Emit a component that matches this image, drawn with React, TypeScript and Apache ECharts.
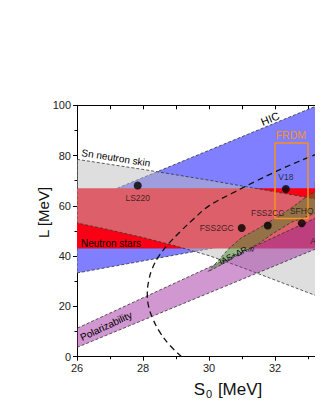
import { useEffect, useRef } from 'react';
import * as echarts from 'echarts';

// ---- axes ----
const xMin = 26;
const xMax = 34;
const yMin = 0;
const yMax = 100;

// ---- constraint regions (S0 [MeV], L [MeV]) ----
const hicBand: number[][] = [[26, 33.3], [34, 52.5], [34, 100], [33.3, 100], [26, 60.4]];
const neutronStarBand: number[][] = [[26, 43], [34, 43], [34, 67], [26, 67]];
const snSkinBand: number[][] = [
  [26, 78.5], [28, 74.5], [30, 70.2], [32, 65.6], [34, 61],
  [34, 20.5], [33, 25.5], [32, 30.5], [31, 35.5], [30, 40.2], [29, 44], [28, 47.4], [27, 50.4], [26, 53.2],
];
const polarizabilityBand: number[][] = [[26, 3.7], [34, 47], [34, 59.8], [26, 11.3]];
const iasBand: number[][] = [
  [29.97, 33.8], [30.3, 38.5], [30.6, 43], [31.0, 47.5], [31.5, 51], [32.0, 55], [32.5, 59.2], [33.0, 64], [33.5, 68], [34, 72],
  [34, 60], [33.5, 58.5], [33.0, 56], [32.5, 53.5], [32.0, 49.5], [31.5, 45], [31.0, 41.5], [30.5, 37.5],
];
const frdmBox: number[][] = [[32, 55], [33, 85]];

// ---- unitary gas bound (dashed curve) ----
const curveL = [0, 5, 10, 15, 20, 25, 30, 35, 40, 45, 50, 55, 60, 65, 70, 75, 80, 85];
const curveS = [29.17, 28.78, 28.5, 28.3, 28.17, 28.13, 28.17, 28.28, 28.48, 28.78, 29.15, 29.55, 30.0, 30.7, 31.45, 32.25, 33.15, 34.1];

// ---- EOS models ----
const modelNames = ['LS220', 'V18', 'FSS2GC', 'FSS2CC', 'SFHO', 'APR', 'UTK', 'BHB'];
const modelS = [27.84, 32.33, 30.99, 31.78, 32.81, 33.33, 33.45, 33.66];
const modelL = [68.1, 66.7, 51.2, 52.2, 53.1, 50.8, 63.5, 68.7];
const modelLabelPos = ['bottom', 'top', 'left', 'top', 'top', 'bottom', 'top', 'top'];

// ---- in-plot annotations ----
const annoText = ['HIC', 'Sn neutron skin', 'Neutron stars', 'Polarizability', 'IAS+ΔR{sub|np}', 'FRDM'];
const annoS = [31.85, 27.18, 27.03, 26.88, 30.82, 32.48];
const annoL = [94.7, 79.1, 45.1, 12.2, 40.9, 88.1];
const annoRot = [22, -9, 0, 25, 27, 0];
const annoSize = [11, 10, 10, 10, 8.5, 10.5];

const FONT = 'Liberation Sans, Arial, sans-serif';

function polySeries(pts: number[][], fill: string, dashed: boolean, z: number) {
  return {
    type: 'custom',
    coordinateSystem: 'cartesian2d',
    clip: true,
    silent: true,
    z,
    data: [pts[0]],
    renderItem: (_p: any, api: any) => ({
      type: 'polygon',
      shape: { points: pts.map((p) => api.coord(p)) },
      style: {
        fill,
        stroke: dashed ? '#333' : 'none',
        lineWidth: dashed ? 0.8 : 0,
        lineDash: [3, 2],
      },
    }),
  };
}

export default function App() {
  const ref = useRef<HTMLDivElement>(null);
  useEffect(() => {
    const chart = echarts.init(ref.current!, null, { renderer: 'svg' });
    const option: any = {
      animation: false,
      grid: { left: 69, right: 87, top: 97.3, bottom: 61.3, containLabel: false },
      xAxis: [
        {
          type: 'value', min: xMin, max: xMax, interval: 2, position: 'bottom',
          axisLine: { show: true, onZero: false, lineStyle: { color: '#000', width: 1 } },
          axisTick: { show: true, inside: false, length: 4, lineStyle: { color: '#000' } },
          minorTick: { show: true, splitNumber: 2, length: 2.5, lineStyle: { color: '#000' } },
          splitLine: { show: false },
          axisLabel: { color: '#222', fontSize: 11, fontFamily: FONT, margin: 6 },
        },
        {
          type: 'value', min: xMin, max: xMax, interval: 1, position: 'top',
          axisLine: { show: true, onZero: false, lineStyle: { color: '#000', width: 1 } },
          axisTick: { show: true, inside: true, length: 4, lineStyle: { color: '#000' } },
          splitLine: { show: false },
          axisLabel: { show: false },
        },
      ],
      yAxis: [
        {
          type: 'value', min: yMin, max: yMax, interval: 20,
          axisLine: { show: true, onZero: false, lineStyle: { color: '#000', width: 1 } },
          axisTick: { show: true, inside: false, length: 4, lineStyle: { color: '#000' } },
          minorTick: { show: true, splitNumber: 2, length: 2.5, lineStyle: { color: '#000' } },
          splitLine: { show: false },
          axisLabel: { color: '#222', fontSize: 11, fontFamily: FONT, margin: 6 },
        },
      ],
      graphic: [
        {
          type: 'text', x: 35.5, y: 204.5, rotation: Math.PI / 2,
          style: { text: 'L [MeV]', fill: '#111', font: `15px ${FONT}`, align: 'center', verticalAlign: 'middle' },
        },
        {
          type: 'text', x: 220, y: 372,
          style: {
            text: 'S{sub|0} [MeV]', fill: '#111', font: `17px ${FONT}`, align: 'center', verticalAlign: 'top',
            rich: { sub: { fontSize: 11, fontFamily: FONT, fill: '#111', padding: [8, 1, 0, 1] } },
          },
        },
      ],
      series: [
        polySeries(hicBand, '#7f7fff', true, 1),
        polySeries(neutronStarBand, '#fa0014', false, 2),
        polySeries(snSkinBand, 'rgba(190,190,190,0.5)', true, 3),
        polySeries(polarizabilityBand, 'rgba(150,25,150,0.45)', true, 4),
        polySeries(iasBand, 'rgba(60,135,30,0.45)', true, 5),
        {
          type: 'line',
          data: curveS.map((s, i) => [s, curveL[i]]),
          smooth: 0.4,
          showSymbol: false,
          clip: true,
          silent: true,
          z: 6,
          lineStyle: { color: '#111', width: 1.3, type: [6, 4] },
        },
        {
          type: 'custom',
          coordinateSystem: 'cartesian2d',
          silent: true,
          z: 7,
          data: [frdmBox[0]],
          renderItem: (_p: any, api: any) => {
            const a = api.coord(frdmBox[0]);
            const b = api.coord(frdmBox[1]);
            return {
              type: 'rect',
              shape: { x: a[0], y: b[1], width: b[0] - a[0], height: a[1] - b[1] },
              style: { fill: 'none', stroke: '#f7931e', lineWidth: 1.5 },
            };
          },
        },
        {
          type: 'scatter',
          z: 8,
          symbol: 'circle',
          symbolSize: 8,
          itemStyle: { color: '#000' },
          label: { show: true, formatter: '{b}', color: '#111', fontSize: 8.5, fontFamily: FONT, distance: 4 },
          data: modelNames.map((n, i) => ({
            name: n,
            value: [modelS[i], modelL[i]],
            label: { position: modelLabelPos[i] },
          })),
        },
        {
          type: 'custom',
          coordinateSystem: 'cartesian2d',
          silent: true,
          z: 9,
          data: annoS.map((s, i) => [s, annoL[i], i]),
          renderItem: (_p: any, api: any) => {
            const i = api.value(2);
            const c = api.coord([api.value(0), api.value(1)]);
            const color = annoText[i] === 'FRDM' ? '#f7931e' : '#000';
            return {
              type: 'text',
              x: c[0],
              y: c[1],
              rotation: (annoRot[i] * Math.PI) / 180,
              style: {
                text: annoText[i],
                fill: color,
                font: `${annoSize[i]}px ${FONT}`,
                align: 'center',
                verticalAlign: 'middle',
                rich: { sub: { fontSize: 6, fontFamily: FONT, fill: color, padding: [5, 0, 0, 0] } },
              },
            };
          },
        },
      ],
    };
    chart.setOption(option);
    return () => chart.dispose();
  }, []);
  return (
    <div style={{ width: 315, height: 410, overflow: 'hidden', position: 'relative' }}>
      <div ref={ref} style={{ width: 420, height: 410 }} />
    </div>
  );
}
